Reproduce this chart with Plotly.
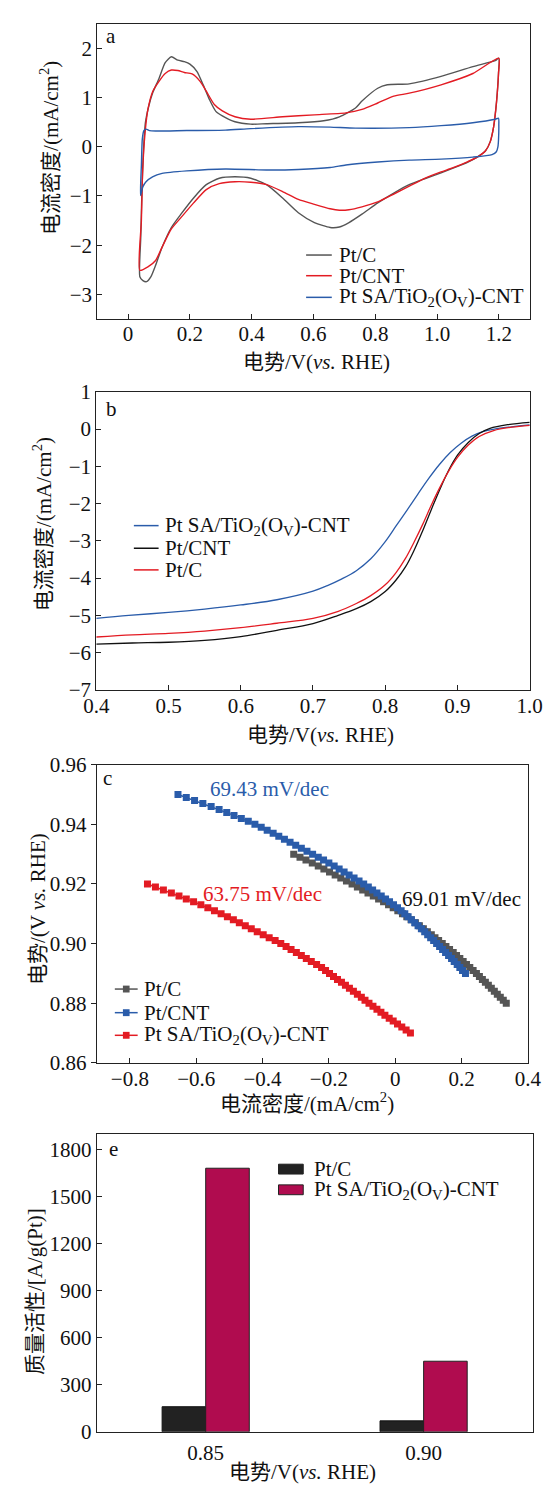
import plotly.graph_objects as go

W, H = 558, 1495
FONT = "Liberation Serif, Times New Roman, Noto Sans CJK SC, serif"
FS = 21

GRAY = "#555555"
RED = "#e31b23"
BLUE = "#2a5caa"
BLACK = "#111111"
BAR_DARK = "#222222"
BAR_MAG = "#b00c4f"

# ---------------- panel a: CV ----------------
ptc_an_v = [0.038, 0.041, 0.045, 0.050, 0.056, 0.067, 0.079, 0.100, 0.120, 0.140, 0.161, 0.182, 0.200, 0.223, 0.243, 0.264, 0.284, 0.305, 0.346, 0.397, 0.448, 0.551, 0.633, 0.684, 0.736, 0.757, 0.808, 0.839, 0.910, 1.013, 1.116, 1.188, 1.200]
ptc_an_i = [-2.64, -1.84, -0.84, -0.04, 0.49, 0.83, 1.09, 1.39, 1.71, 1.83, 1.76, 1.73, 1.68, 1.53, 1.26, 0.95, 0.72, 0.63, 0.51, 0.46, 0.47, 0.49, 0.53, 0.61, 0.79, 0.93, 1.19, 1.26, 1.28, 1.43, 1.63, 1.75, 1.80]
ptc_ca_v = [1.199, 1.195, 1.190, 1.183, 1.172, 1.157, 1.130, 1.100, 1.050, 1.013, 0.960, 0.910, 0.860, 0.808, 0.757, 0.715, 0.684, 0.654, 0.603, 0.551, 0.500, 0.448, 0.397, 0.346, 0.295, 0.253, 0.212, 0.171, 0.140, 0.110, 0.089, 0.074, 0.060, 0.048, 0.038]
ptc_ca_i = [1.50, 1.10, 0.75, 0.40, 0.10, -0.08, -0.21, -0.31, -0.44, -0.53, -0.65, -0.77, -0.94, -1.14, -1.37, -1.54, -1.63, -1.64, -1.54, -1.34, -1.04, -0.77, -0.64, -0.61, -0.64, -0.77, -1.04, -1.37, -1.64, -2.04, -2.41, -2.64, -2.74, -2.72, -2.64]

ptcnt_an_v = [0.038, 0.043, 0.047, 0.055, 0.064, 0.080, 0.100, 0.120, 0.140, 0.161, 0.182, 0.207, 0.233, 0.253, 0.279, 0.305, 0.346, 0.397, 0.500, 0.603, 0.705, 0.757, 0.808, 0.860, 0.910, 1.013, 1.116, 1.200]
ptcnt_an_i = [-2.51, -1.50, -0.50, 0.29, 0.76, 1.13, 1.33, 1.49, 1.56, 1.55, 1.51, 1.48, 1.33, 1.13, 0.86, 0.73, 0.61, 0.56, 0.61, 0.65, 0.69, 0.76, 0.89, 1.03, 1.09, 1.26, 1.49, 1.80]
ptcnt_ca_v = [1.199, 1.195, 1.190, 1.183, 1.172, 1.157, 1.130, 1.100, 1.050, 1.013, 0.960, 0.910, 0.860, 0.808, 0.757, 0.715, 0.684, 0.654, 0.603, 0.551, 0.500, 0.448, 0.397, 0.346, 0.295, 0.253, 0.212, 0.171, 0.140, 0.110, 0.089, 0.064, 0.038]
ptcnt_ca_i = [1.50, 1.10, 0.75, 0.40, 0.10, -0.08, -0.21, -0.30, -0.43, -0.51, -0.64, -0.80, -0.96, -1.12, -1.22, -1.28, -1.29, -1.26, -1.17, -1.07, -0.91, -0.77, -0.72, -0.71, -0.75, -0.87, -1.14, -1.44, -1.67, -2.04, -2.31, -2.44, -2.51]

ptsa_an_v = [0.040, 0.043, 0.046, 0.051, 0.058, 0.069, 0.089, 0.190, 0.315, 0.397, 0.551, 0.654, 0.736, 0.910, 1.013, 1.116, 1.188, 1.199]
ptsa_an_i = [-0.99, -0.37, 0.16, 0.33, 0.36, 0.33, 0.32, 0.33, 0.34, 0.37, 0.41, 0.40, 0.38, 0.39, 0.43, 0.49, 0.56, 0.58]
ptsa_ca_v = [1.200, 1.199, 1.197, 1.192, 1.178, 1.116, 1.013, 0.910, 0.808, 0.705, 0.654, 0.551, 0.448, 0.315, 0.190, 0.110, 0.079, 0.058, 0.048, 0.040]
ptsa_ca_i = [0.45, 0.15, 0.00, -0.10, -0.16, -0.21, -0.25, -0.27, -0.31, -0.37, -0.42, -0.46, -0.47, -0.45, -0.49, -0.54, -0.61, -0.71, -0.81, -0.99]

# ---------------- panel b: LSV ----------------
lsv_blue_v = [0.400, 0.445, 0.500, 0.550, 0.600, 0.650, 0.700, 0.720, 0.740, 0.760, 0.780, 0.800, 0.815, 0.830, 0.845, 0.860, 0.875, 0.890, 0.905, 0.920, 0.935, 0.951, 0.975, 1.000]
lsv_blue_i = [-5.08, -5.00, -4.92, -4.83, -4.72, -4.58, -4.35, -4.20, -4.02, -3.80, -3.48, -3.02, -2.60, -2.18, -1.75, -1.33, -0.95, -0.63, -0.38, -0.19, -0.07, 0.00, 0.06, 0.11]
lsv_black_v = [0.400, 0.450, 0.500, 0.550, 0.600, 0.650, 0.700, 0.735, 0.760, 0.780, 0.800, 0.815, 0.828, 0.840, 0.852, 0.864, 0.876, 0.888, 0.900, 0.915, 0.930, 0.945, 0.970, 1.000]
lsv_black_i = [-5.77, -5.74, -5.72, -5.67, -5.57, -5.40, -5.22, -5.00, -4.82, -4.63, -4.36, -4.05, -3.70, -3.25, -2.72, -2.15, -1.60, -1.10, -0.70, -0.36, -0.12, 0.02, 0.12, 0.18]
lsv_red_v = [0.400, 0.450, 0.500, 0.550, 0.600, 0.650, 0.700, 0.735, 0.760, 0.780, 0.800, 0.815, 0.828, 0.840, 0.852, 0.864, 0.876, 0.888, 0.900, 0.915, 0.930, 0.950, 0.975, 1.000]
lsv_red_i = [-5.58, -5.52, -5.48, -5.42, -5.33, -5.21, -5.08, -4.89, -4.68, -4.47, -4.18, -3.85, -3.47, -3.03, -2.55, -2.03, -1.55, -1.12, -0.76, -0.43, -0.20, -0.04, 0.05, 0.10]

# ---------------- panel c: Tafel ----------------
tafel_ptc_e = [0.930, 0.929, 0.928, 0.927, 0.926, 0.925, 0.924, 0.923, 0.922, 0.921, 0.920, 0.919, 0.918, 0.917, 0.916, 0.915, 0.914, 0.913, 0.912, 0.911, 0.910, 0.909, 0.908, 0.907, 0.906, 0.905, 0.904, 0.903, 0.902, 0.901, 0.900, 0.899, 0.898, 0.897, 0.896, 0.895, 0.894, 0.893, 0.892, 0.891, 0.890, 0.889, 0.888, 0.887, 0.886, 0.885, 0.884, 0.883, 0.882, 0.881, 0.880]
tafel_ptc_j = [-0.306, -0.287, -0.269, -0.250, -0.232, -0.215, -0.198, -0.181, -0.164, -0.147, -0.130, -0.114, -0.098, -0.082, -0.066, -0.050, -0.035, -0.020, -0.006, 0.008, 0.022, 0.035, 0.048, 0.061, 0.073, 0.085, 0.097, 0.109, 0.120, 0.131, 0.142, 0.153, 0.164, 0.175, 0.185, 0.195, 0.205, 0.215, 0.225, 0.235, 0.245, 0.254, 0.263, 0.272, 0.281, 0.290, 0.299, 0.308, 0.317, 0.326, 0.335]
tafel_ptcnt_e = [0.950, 0.949, 0.948, 0.947, 0.946, 0.945, 0.944, 0.943, 0.942, 0.941, 0.940, 0.939, 0.938, 0.937, 0.936, 0.935, 0.934, 0.933, 0.932, 0.931, 0.930, 0.929, 0.928, 0.927, 0.926, 0.925, 0.924, 0.923, 0.922, 0.921, 0.920, 0.919, 0.918, 0.917, 0.916, 0.915, 0.914, 0.913, 0.912, 0.911, 0.910, 0.909, 0.908, 0.907, 0.906, 0.905, 0.904, 0.903, 0.902, 0.901, 0.900, 0.899, 0.898, 0.897, 0.896, 0.895, 0.894, 0.893, 0.892, 0.891, 0.890]
tafel_ptcnt_j = [-0.655, -0.630, -0.605, -0.580, -0.555, -0.531, -0.508, -0.486, -0.464, -0.443, -0.423, -0.404, -0.386, -0.368, -0.351, -0.334, -0.317, -0.300, -0.283, -0.266, -0.249, -0.232, -0.216, -0.200, -0.184, -0.169, -0.154, -0.139, -0.124, -0.109, -0.095, -0.081, -0.068, -0.055, -0.042, -0.029, -0.017, -0.005, 0.007, 0.018, 0.029, 0.039, 0.049, 0.059, 0.069, 0.079, 0.089, 0.098, 0.107, 0.116, 0.125, 0.134, 0.143, 0.152, 0.161, 0.170, 0.178, 0.187, 0.195, 0.203, 0.212]
tafel_ptsa_e = [0.920, 0.919, 0.918, 0.917, 0.916, 0.915, 0.914, 0.913, 0.912, 0.911, 0.910, 0.909, 0.908, 0.907, 0.906, 0.905, 0.904, 0.903, 0.902, 0.901, 0.900, 0.899, 0.898, 0.897, 0.896, 0.895, 0.894, 0.893, 0.892, 0.891, 0.890, 0.889, 0.888, 0.887, 0.886, 0.885, 0.884, 0.883, 0.882, 0.881, 0.880, 0.879, 0.878, 0.877, 0.876, 0.875, 0.874, 0.873, 0.872, 0.871, 0.870]
tafel_ptsa_j = [-0.747, -0.723, -0.699, -0.675, -0.652, -0.630, -0.608, -0.586, -0.565, -0.545, -0.525, -0.506, -0.488, -0.470, -0.452, -0.434, -0.416, -0.398, -0.380, -0.362, -0.345, -0.329, -0.314, -0.298, -0.283, -0.268, -0.253, -0.237, -0.222, -0.210, -0.198, -0.186, -0.174, -0.162, -0.150, -0.138, -0.126, -0.114, -0.102, -0.091, -0.079, -0.067, -0.055, -0.043, -0.031, -0.018, -0.006, 0.007, 0.020, 0.033, 0.046]
tafel_labels = ["69.43 mV/dec", "63.75 mV/dec", "69.01 mV/dec"]

# ---------------- panel e: mass activity ----------------
ma_potentials = ["0.85", "0.90"]
ma_ptc = [160, 70]
ma_ptsa = [1680, 450]

# tick labels
a_xticks = [0, 0.2, 0.4, 0.6, 0.8, 1.0, 1.2]
a_xtext = ["0", "0.2", "0.4", "0.6", "0.8", "1.0", "1.2"]
a_yticks = [-3, -2, -1, 0, 1, 2]
b_xticks = [0.4, 0.5, 0.6, 0.7, 0.8, 0.9, 1.0]
b_xtext = ["0.4", "0.5", "0.6", "0.7", "0.8", "0.9", "1.0"]
b_yticks = [-7, -6, -5, -4, -3, -2, -1, 0, 1]
c_xticks = [-0.8, -0.6, -0.4, -0.2, 0, 0.2, 0.4]
c_xtext = ["\u22120.8", "\u22120.6", "\u22120.4", "\u22120.2", "0", "0.2", "0.4"]
c_yticks = [0.86, 0.88, 0.90, 0.92, 0.94, 0.96]
c_ytext = ["0.86", "0.88", "0.90", "0.92", "0.94", "0.96"]
e_yticks = [0, 300, 600, 900, 1200, 1500, 1800]

NAME_PTC = "Pt/C"
NAME_PTCNT = "Pt/CNT"
NAME_PTSA = "Pt SA/TiO<sub>2</sub>(O<sub>V</sub>)-CNT"


def px(x):
    return x / W


def py(y):
    return 1 - y / H


fig = go.Figure()

# panel a traces
for v1, i1, v2, i2, col, nm in [
    (ptc_an_v, ptc_an_i, ptc_ca_v, ptc_ca_i, GRAY, NAME_PTC),
    (ptcnt_an_v, ptcnt_an_i, ptcnt_ca_v, ptcnt_ca_i, RED, NAME_PTCNT),
    (ptsa_an_v, ptsa_an_i, ptsa_ca_v, ptsa_ca_i, BLUE, NAME_PTSA),
]:
    fig.add_trace(go.Scatter(x=v1 + v2, y=i1 + i2, mode="lines", name=nm,
                             line=dict(color=col, width=1.4, shape="spline", smoothing=0.6),
                             xaxis="x", yaxis="y", showlegend=False))

# panel b
for v, i, col, nm in [
    (lsv_blue_v, lsv_blue_i, BLUE, NAME_PTSA),
    (lsv_black_v, lsv_black_i, BLACK, NAME_PTCNT),
    (lsv_red_v, lsv_red_i, RED, NAME_PTC),
]:
    fig.add_trace(go.Scatter(x=v, y=i, mode="lines", name=nm,
                             line=dict(color=col, width=1.3, shape="spline", smoothing=1.0),
                             xaxis="x2", yaxis="y2", showlegend=False))

# panel c
for j, e, col, nm in [
    (tafel_ptc_j, tafel_ptc_e, GRAY, NAME_PTC),
    (tafel_ptcnt_j, tafel_ptcnt_e, BLUE, NAME_PTCNT),
    (tafel_ptsa_j, tafel_ptsa_e, RED, NAME_PTSA),
]:
    fig.add_trace(go.Scatter(x=j, y=e, mode="lines+markers", name=nm,
                             line=dict(color=col, width=1.5),
                             marker=dict(symbol="square", size=7, color=col),
                             xaxis="x3", yaxis="y3", showlegend=False))

# panel e
fig.add_trace(go.Bar(x=ma_potentials, y=ma_ptc, name=NAME_PTC, marker=dict(color=BAR_DARK, line=dict(color="#111111", width=1)),
                     xaxis="x4", yaxis="y4", showlegend=False))
fig.add_trace(go.Bar(x=ma_potentials, y=ma_ptsa, name=NAME_PTSA, marker=dict(color=BAR_MAG, line=dict(color="#222222", width=1)),
                     xaxis="x4", yaxis="y4", showlegend=False))

axis_common = dict(showline=True, linecolor="#222222", linewidth=1, mirror=True,
                   showgrid=False, zeroline=False, ticklen=5, tickwidth=1, tickcolor="#222222",
                   tickfont=dict(family=FONT, size=FS, color="#111111"))

domains = {
    "a": ([88.5, 543], [12, 312]),
    "b": ([87.5, 543], [386, 689]),
    "c": ([88, 541], [765, 1068]),
    "e": ([88, 546], [1140, 1443]),
}


def dom(key):
    (x0, x1), (y0, y1) = domains[key]
    return [px(x0), px(x1)], [py(y1), py(y0)]


dxa, dya = dom("a")
dxb, dyb = dom("b")
dxc, dyc = dom("c")
dxe, dye = dom("e")

fig.update_layout(
    width=W, height=H, margin=dict(l=0, r=0, t=0, b=0),
    paper_bgcolor="white", plot_bgcolor="white",
    font=dict(family=FONT, size=FS, color="#111111"),
    bargap=0.6, bargroupgap=0,
    xaxis=dict(domain=dxa, anchor="y", range=[-0.1, 1.3], tickvals=a_xticks, ticktext=a_xtext, ticks="inside", ticklabelstandoff=-4, **axis_common),
    yaxis=dict(domain=dya, anchor="x", range=[-3.5, 2.5], tickvals=a_yticks, ticks="inside", **axis_common),
    xaxis2=dict(domain=dxb, anchor="y2", range=[0.4, 1.0], tickvals=b_xticks, ticktext=b_xtext, ticks="inside", ticklabelstandoff=-3, **axis_common),
    yaxis2=dict(domain=dyb, anchor="x2", range=[-7, 1], tickvals=b_yticks, ticks="inside", **axis_common),
    xaxis3=dict(domain=dxc, anchor="y3", range=[-0.9, 0.4], tickvals=c_xticks, ticktext=c_xtext, ticks="inside", ticklabelstandoff=-3, **axis_common),
    yaxis3=dict(domain=dyc, anchor="x3", range=[0.86, 0.96], tickvals=c_yticks, ticktext=c_ytext, ticks="outside", **axis_common),
    xaxis4=dict(domain=dxe, anchor="y4", type="category", ticks="", ticklabelstandoff=2, **axis_common),
    yaxis4=dict(domain=dye, anchor="x4", range=[0, 1900], tickvals=e_yticks, ticks="inside", **axis_common),
)

annotations = []
shapes = []


def text(x, y, s, color="#111111", size=FS, xanchor="center", angle=0):
    annotations.append(dict(x=px(x), y=py(y), xref="paper", yref="paper", text=s, showarrow=False,
                            xanchor=xanchor, yanchor="middle", textangle=angle,
                            font=dict(family=FONT, size=size, color=color)))


# panel letters
text(103, 24, "a")
text(103, 403, "b")
text(99, 778, "c")
text(106, 1156, "e")

# axis titles
XT = "电势/V(<i>vs.</i> RHE)"
YJ = "电流密度/(mA/cm<sup>2</sup>)"
text(319, 356, XT)
text(39, 138, YJ, angle=-90)
text(323, 735, XT)
text(31, 521, YJ, angle=-90)
text(309, 1108, YJ)
text(27, 912, "电势/(V <i>vs.</i> RHE)", angle=-90)
text(304, 1484, XT)
text(23, 1300, "质量活性/[A/g(Pt)]", angle=-90)

# Tafel slope labels
text(270, 790, tafel_labels[0], color=BLUE)
text(262, 896, tafel_labels[1], color=RED)
text(471, 901, tafel_labels[2], color=BLACK)


def legend_line(x0, x1, y, color, label, marker=False):
    shapes.append(dict(type="line", xref="paper", yref="paper", x0=px(x0), x1=px(x1), y0=py(y), y1=py(y),
                       line=dict(color=color, width=1.5)))
    if marker:
        c = (x0 + x1) / 2
        shapes.append(dict(type="rect", xref="paper", yref="paper", x0=px(c - 3.5), x1=px(c + 3.5),
                           y0=py(y + 3.5), y1=py(y - 3.5), fillcolor=color, line=dict(width=0)))
    text(x1 + 5, y, label, xanchor="left")


legend_line(308, 335, 247, GRAY, NAME_PTC)
legend_line(308, 335, 268, RED, NAME_PTCNT)
legend_line(308, 335, 290, BLUE, NAME_PTSA)

legend_line(127, 153, 522, BLUE, NAME_PTSA)
legend_line(127, 153, 545, BLACK, NAME_PTCNT)
legend_line(127, 153, 567, RED, NAME_PTC)

legend_line(107, 131, 993, GRAY, NAME_PTC, marker=True)
legend_line(107, 131, 1017, BLUE, NAME_PTCNT, marker=True)
legend_line(107, 131, 1040, RED, NAME_PTSA, marker=True)

for yy, col, lab in [(1176, BAR_DARK, NAME_PTC), (1197, BAR_MAG, NAME_PTSA)]:
    shapes.append(dict(type="rect", xref="paper", yref="paper", x0=px(279), x1=px(305),
                       y0=py(yy + 5), y1=py(yy - 5), fillcolor=col, line=dict(color="#222222", width=1)))
    text(314, yy, lab, xanchor="left")

fig.update_layout(annotations=annotations, shapes=shapes)

fig.write_html("out.html")
